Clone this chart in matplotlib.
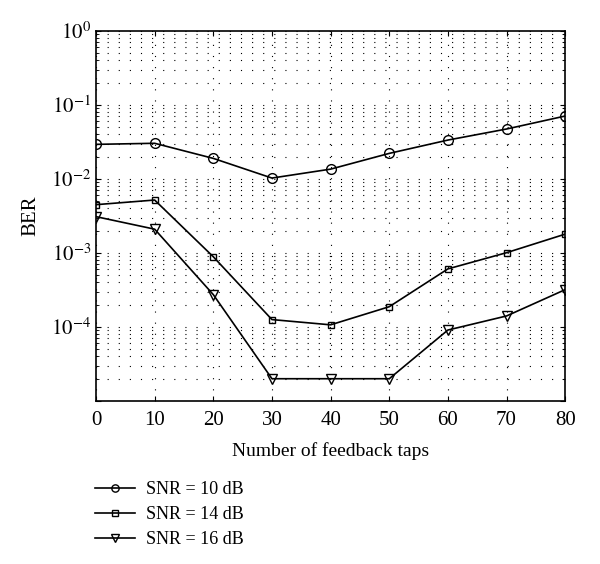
import numpy as np
import matplotlib.pyplot as plt
from matplotlib.ticker import LogLocator, NullFormatter

plt.rcParams['font.family'] = ['Liberation Serif', 'DejaVu Serif']
plt.rcParams['mathtext.fontset'] = 'stix'

taps = [0, 10, 20, 30, 40, 50, 60, 70, 80]
ber_10 = [0.0294, 0.0304, 0.019, 0.0103, 0.0136, 0.0222, 0.0336, 0.0474, 0.071]
ber_14 = [0.0045, 0.0052, 0.00089, 1.26e-4, 1.07e-4, 1.88e-4, 6.1e-4, 1.01e-3, 1.8e-3]
ber_16 = [0.0031, 0.0021, 2.74e-4, 2e-5, 2e-5, 2e-5, 9.1e-5, 1.41e-4, 3.2e-4]
labels = ['SNR = 10 dB', 'SNR = 14 dB', 'SNR = 16 dB']
yticks = [1e-5, 1e-4, 1e-3, 1e-2, 1e-1, 1]
ytick_labels = ['', r'$10^{-4}$', r'$10^{-3}$', r'$10^{-2}$', r'$10^{-1}$', r'$10^{0}$']

fig = plt.figure(figsize=(6, 5.64), dpi=100)
ax = fig.add_axes([0.16, 0.289, 0.782, 0.656])

ax.plot(taps, ber_10, 'k-', marker='o', ms=7, mfc='none', lw=1.2, label=labels[0])
ax.plot(taps, ber_14, 'k-', marker='s', ms=5, mfc='none', lw=1.2, label=labels[1])
ax.plot(taps, ber_16, 'k-', marker='v', ms=7, mfc='none', lw=1.2, label=labels[2])

ax.set_yscale('log')
ax.set_ylim(1e-5, 1)
ax.set_xlim(0, 80)
ax.set_xticks(np.arange(0, 81, 10))
ax.set_yticks(yticks)
ax.set_yticklabels(ytick_labels)
ax.yaxis.set_minor_locator(LogLocator(base=10, subs=np.arange(2, 10), numticks=10))
ax.yaxis.set_minor_formatter(NullFormatter())

ax.grid(True, which='both', axis='y', color='k', linestyle=(0, (1, 9)), lw=0.8)
ax.grid(True, which='major', axis='x', color='k', linestyle=(0, (1, 9)), lw=0.8)
ax.tick_params(which='both', direction='in', top=True, right=True, labelsize=15)
ax.tick_params(axis='x', pad=7)
for s in ax.spines.values():
    s.set_linewidth(1.2)

ax.set_xlabel('Number of feedback taps', fontsize=14, labelpad=9)
ax.set_ylabel('BER', fontsize=15, labelpad=8)

fig.legend(loc='upper left', bbox_to_anchor=(0.132, 0.176), frameon=False,
           fontsize=13, handlelength=2.2, labelspacing=0.45, handletextpad=0.6,
           markerscale=0.75)

fig.savefig('out.png', dpi=100)
